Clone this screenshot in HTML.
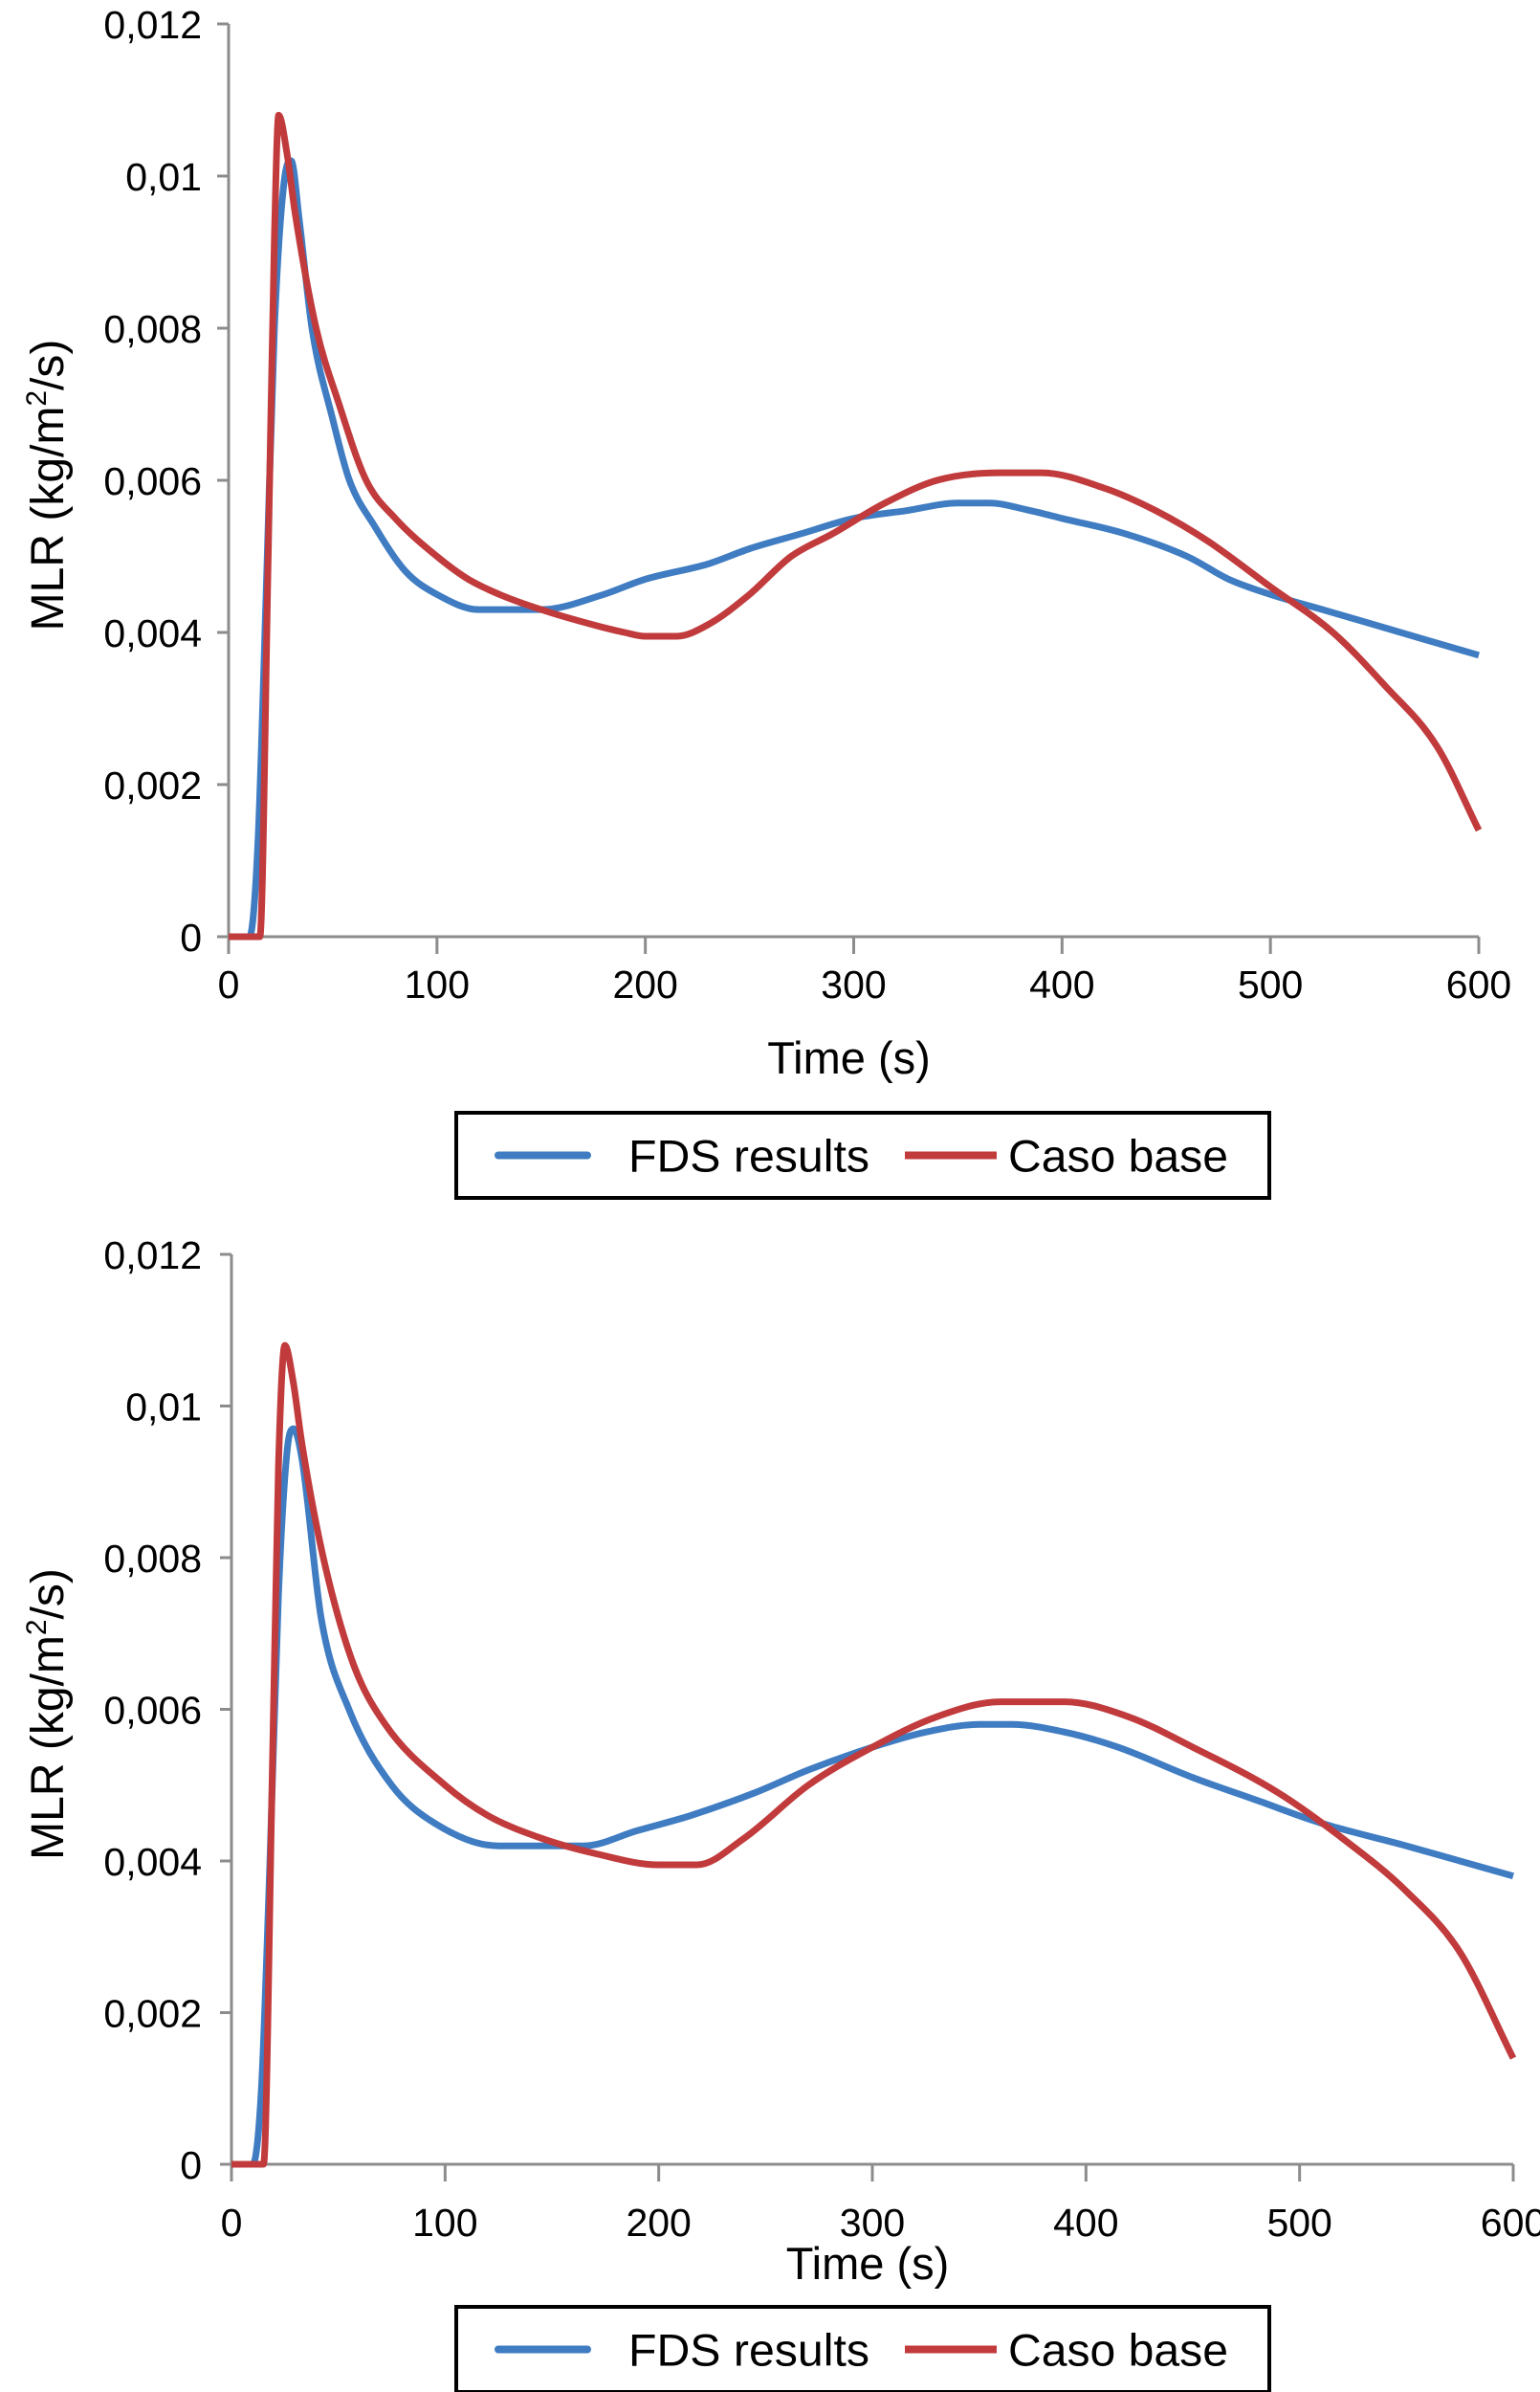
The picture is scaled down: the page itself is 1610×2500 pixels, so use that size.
<!DOCTYPE html>
<html><head><meta charset="utf-8"><style>
html,body{margin:0;padding:0;background:#fff;}
svg{display:block;font-family:"Liberation Sans",sans-serif;}
</style></head><body>
<svg id="chart" width="1610" height="2500" viewBox="0 0 1610 2500" xmlns="http://www.w3.org/2000/svg"></svg>
<script>
const yTicks = [0, 0.002, 0.004, 0.006, 0.008, 0.01, 0.012];
const yTickLabels = ["0", "0,002", "0,004", "0,006", "0,008", "0,01", "0,012"];
const xTicks = [0, 100, 200, 300, 400, 500, 600];
const xTickLabels = ["0", "100", "200", "300", "400", "500", "600"];

const fds1T = [0,10,14,18,22,27,30,34,40,50,58,70,85,100,120,150,180,200,230,250,275,300,325,350,365,385,400,430,460,480,500,525,550,575,600];
const fds1V = [0,0,0.0012,0.0045,0.008,0.0100,0.0102,0.0094,0.008,0.0068,0.006,0.0054,0.0048,0.0045,0.0043,0.0043,0.0045,0.0047,0.0049,0.0051,0.0053,0.0055,0.0056,0.0057,0.0057,0.0056,0.0055,0.0053,0.0050,0.0047,0.0045,0.0043,0.0041,0.0039,0.0037];
const caso1T = [0,15,19,22,24,28,32,42,53,66,80,100,115,130,150,175,190,200,215,230,250,270,290,315,340,370,390,420,445,470,500,530,555,580,600];
const caso1V = [0,0,0.005,0.0092,0.0108,0.0103,0.0095,0.008,0.007,0.006,0.0055,0.005,0.0047,0.0045,0.0043,0.0041,0.0040,0.00395,0.00395,0.0041,0.0045,0.005,0.0053,0.0057,0.006,0.0061,0.0061,0.0059,0.0056,0.0052,0.0046,0.004,0.0033,0.0025,0.0014];

const fds2T = [0,10,14,18,22,26,29,33,42,55,75,95,125,165,190,215,245,270,300,325,350,365,390,415,450,480,510,550,575,600];
const fds2V = [0,0,0.001,0.004,0.0075,0.0094,0.0097,0.0093,0.0072,0.006,0.005,0.0045,0.0042,0.0042,0.0044,0.0046,0.0049,0.0052,0.0055,0.0057,0.0058,0.0058,0.0057,0.0055,0.0051,0.0048,0.0045,0.0042,0.0040,0.0038];
const caso2T = [0,15,19,22,25,29,33,43,57,72,100,120,145,170,200,218,240,270,300,330,360,390,420,450,490,520,550,575,600];
const caso2V = [0,0,0.005,0.0092,0.0108,0.0103,0.0095,0.008,0.0066,0.0058,0.005,0.0046,0.0043,0.0041,0.00395,0.00395,0.0043,0.005,0.0055,0.0059,0.0061,0.0061,0.0059,0.0055,0.0049,0.0043,0.0036,0.0028,0.0014];

const NS = "http://www.w3.org/2000/svg";
const svg = document.getElementById('chart');
function mk(tag, attrs, parent, text){
  const e = document.createElementNS(NS, tag);
  for (const k in attrs) e.setAttribute(k, attrs[k]);
  if (text !== undefined) e.textContent = text;
  (parent || svg).appendChild(e);
  return e;
}
// monotone cubic interpolation (no overshoot)
function monoPath(pts){
  const n = pts.length, d = [], m = [];
  for (let i = 0; i < n-1; i++) d.push((pts[i+1][1]-pts[i][1])/(pts[i+1][0]-pts[i][0]));
  m[0] = d[0]; m[n-1] = d[n-2];
  for (let i = 1; i < n-1; i++) m[i] = (d[i-1]*d[i] <= 0) ? 0 : (d[i-1]+d[i])/2;
  for (let i = 0; i < n-1; i++){
    if (d[i] === 0){ m[i] = 0; m[i+1] = 0; continue; }
    const a = m[i]/d[i], b = m[i+1]/d[i], s = a*a+b*b;
    if (s > 9){ const t = 3/Math.sqrt(s); m[i] = t*a*d[i]; m[i+1] = t*b*d[i]; }
  }
  let p = "M" + pts[0][0].toFixed(1) + "," + pts[0][1].toFixed(1);
  for (let i = 0; i < n-1; i++){
    const h = (pts[i+1][0]-pts[i][0])/3;
    p += " C" + (pts[i][0]+h).toFixed(1) + "," + (pts[i][1]+m[i]*h).toFixed(1) + " " +
         (pts[i+1][0]-h).toFixed(1) + "," + (pts[i+1][1]-m[i+1]*h).toFixed(1) + " " +
         pts[i+1][0].toFixed(1) + "," + pts[i+1][1].toFixed(1);
  }
  return p;
}
function drawChart(idx, x0, x1, yTop, yBot, fT, fV, cT, cV, xLabY, titleY, legTop, legBot){
  const xs = t => x0 + (t/600)*(x1-x0);
  const ys = v => yBot - (v/0.012)*(yBot-yTop);
  const grp = mk('g', {}, svg);
  
  
  const ya = mk('line', {x1:x0, y1:yTop, x2:x0, y2:yBot, stroke:'#8c8c8c', 'stroke-width':3}, grp);
  
  
  const xa = mk('line', {x1:x0, y1:yBot, x2:x1, y2:yBot, stroke:'#8c8c8c', 'stroke-width':3}, grp);
  
  
  yTicks.forEach((v, i) => {
    const y = ys(v);
    mk('line', {x1:x0-12, y1:y, x2:x0, y2:y, stroke:'#8c8c8c', 'stroke-width':3}, grp);
    const t = mk('text', {x:211, y:y+15, 'font-size':41, 'text-anchor':'end', fill:'#000'}, grp, yTickLabels[i]);
    
    
  });
  xTicks.forEach((v, i) => {
    const x = xs(v);
    mk('line', {x1:x, y1:yBot, x2:x, y2:yBot+18, stroke:'#8c8c8c', 'stroke-width':3}, grp);
    const t = mk('text', {x:x, y:xLabY, 'font-size':41, 'text-anchor':'middle', fill:'#000'}, grp, xTickLabels[i]);
    
    
  });
  const xt = mk('text', {x:(x0+x1)/2 - 5, y:titleY, 'font-size':47, 'text-anchor':'middle', fill:'#000'}, grp, 'Time (s)');
  
  
  const ycy = (yTop+yBot)/2 + 5;
  const yt = mk('text', {x:0, y:0, 'font-size':48, 'text-anchor':'middle', fill:'#000', transform:'translate(66,' + ycy + ') rotate(-90)'}, grp);
  
  
  mk('tspan', {}, yt, 'MLR (kg/m');
  mk('tspan', {'font-size':30, dy:-18}, yt, '2');
  mk('tspan', {dy:18}, yt, '/s)');
  const fp = mk('path', {d:monoPath(fT.map((t,i)=>[xs(t), ys(fV[i])])), fill:'none', stroke:'#3f7cc2', 'stroke-width':7, 'stroke-linejoin':'round'}, grp);
  
  
  const cp = mk('path', {d:monoPath(cT.map((t,i)=>[xs(t), ys(cV[i])])), fill:'none', stroke:'#c13b3c', 'stroke-width':7, 'stroke-linejoin':'round'}, grp);
  
  
  const lg = mk('g', {}, grp);
  
  
  mk('rect', {x:477, y:legTop, width:850, height:legBot-legTop, fill:'#fff', stroke:'#000', 'stroke-width':4}, lg);
  const cy = (legTop + Math.min(legBot, legTop+89))/2;
  mk('line', {x1:521, y1:cy, x2:614, y2:cy, stroke:'#3f7cc2', 'stroke-width':8, 'stroke-linecap':'round'}, lg);
  const l1 = mk('text', {x:657, y:cy+17, 'font-size':47, fill:'#000', textLength:252, lengthAdjust:'spacingAndGlyphs'}, lg, 'FDS results');
  
  
  mk('line', {x1:946, y1:cy, x2:1042, y2:cy, stroke:'#c13b3c', 'stroke-width':8}, lg);
  const l2 = mk('text', {x:1054, y:cy+17, 'font-size':47, fill:'#000', textLength:230, lengthAdjust:'spacingAndGlyphs'}, lg, 'Caso base');
  
  
}
drawChart(1, 239, 1546, 25, 979, fds1T, fds1V, caso1T, caso1V, 1043, 1122, 1163, 1252);
drawChart(2, 242, 1582, 1311, 2262, fds2T, fds2V, caso2T, caso2V, 2337, 2382, 2411, 2500);
</script>
</body></html>
